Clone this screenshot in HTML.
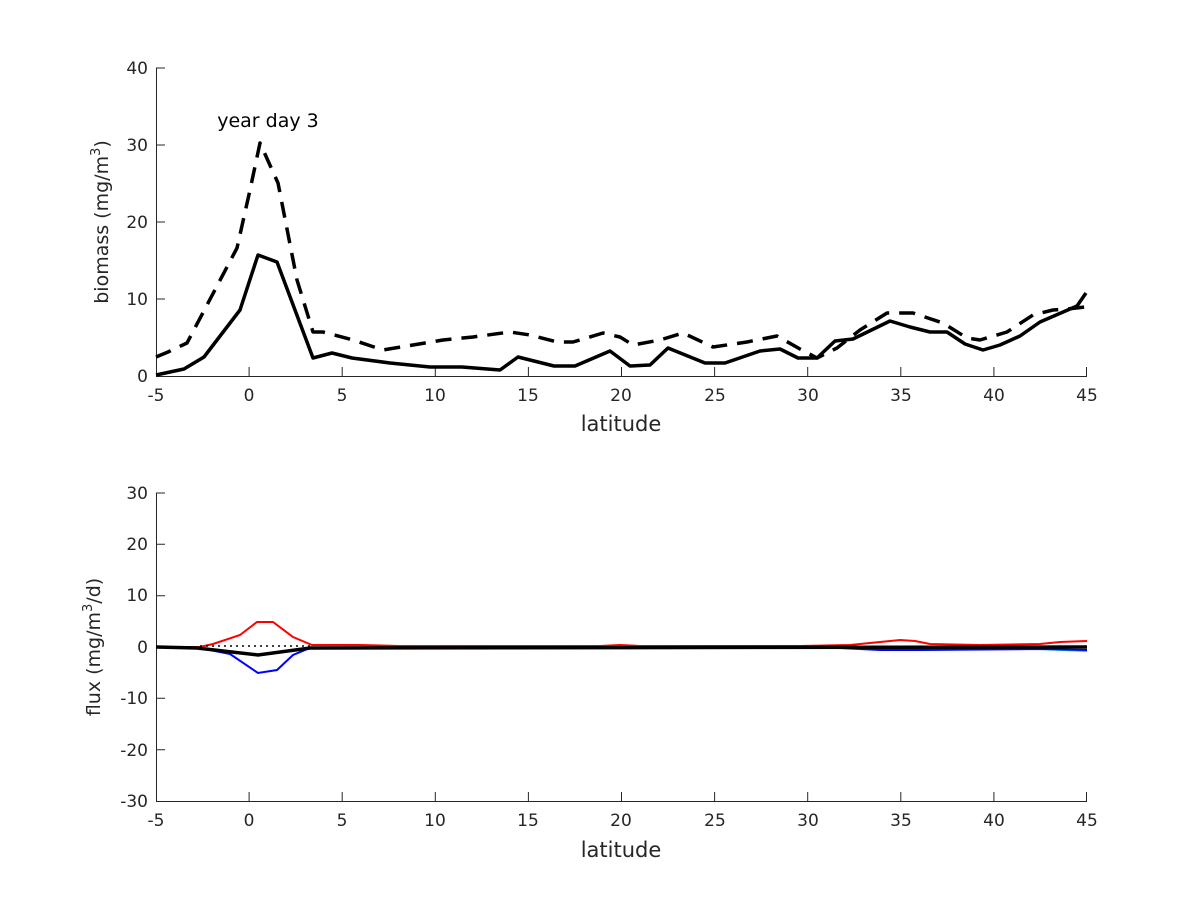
<!DOCTYPE html>
<html><head><meta charset="utf-8"><style>body{margin:0;background:#fff}</style></head><body>
<svg width="1200" height="900" xmlns="http://www.w3.org/2000/svg" font-family="DejaVu Sans, Liberation Sans, sans-serif" fill="#262626">
<rect width="1200" height="900" fill="#fff"/>
<g stroke="#262626" stroke-width="1" fill="none">
<path d="M156.5 68V376.5H1087"/>
<path d="M156.5 493V801.5H1087"/>
<path d="M156 68h9M156 145h9M156 222h9M156 299h9 M156 493h9M156 544.3h9M156 595.7h9M156 647h9M156 698.3h9M156 749.7h9"/>
<path d="M249.1 376v-9M342.2 376v-9M435.3 376v-9M528.4 376v-9M621.5 376v-9M714.6 376v-9M807.7 376v-9M900.8 376v-9M993.9 376v-9M1086.5 376v-9"/>
<path d="M249.1 801v-9M342.2 801v-9M435.3 801v-9M528.4 801v-9M621.5 801v-9M714.6 801v-9M807.7 801v-9M900.8 801v-9M993.9 801v-9M1086.5 801v-9"/>
</g>
<g font-size="17" text-anchor="end">
<text x="148" y="74">40</text><text x="148" y="151">30</text><text x="148" y="228">20</text><text x="148" y="305">10</text><text x="148" y="382">0</text>
<text x="148" y="499">30</text><text x="148" y="550">20</text><text x="148" y="601">10</text><text x="148" y="653">0</text><text x="148" y="704">-10</text><text x="148" y="756">-20</text><text x="148" y="807">-30</text>
</g>
<g font-size="17" text-anchor="middle">
<text x="156" y="401">-5</text><text x="249" y="401">0</text><text x="342" y="401">5</text><text x="435" y="401">10</text><text x="528" y="401">15</text><text x="621" y="401">20</text><text x="715" y="401">25</text><text x="808" y="401">30</text><text x="901" y="401">35</text><text x="994" y="401">40</text><text x="1087" y="401">45</text>
<text x="156" y="826">-5</text><text x="249" y="826">0</text><text x="342" y="826">5</text><text x="435" y="826">10</text><text x="528" y="826">15</text><text x="621" y="826">20</text><text x="715" y="826">25</text><text x="808" y="826">30</text><text x="901" y="826">35</text><text x="994" y="826">40</text><text x="1087" y="826">45</text>
<text x="621" y="431" font-size="21">latitude</text>
<text x="621" y="857" font-size="21">latitude</text>
<text x="268" y="127" font-size="19" fill="#000">year day 3</text>
<text transform="translate(108 222) rotate(-90)" font-size="19">biomass (mg/m<tspan font-size="13" dy="-8">3</tspan><tspan dy="8">)</tspan></text>
<text transform="translate(100 647) rotate(-90)" font-size="19">flux (mg/m<tspan font-size="13" dy="-8">3</tspan><tspan dy="8">/d)</tspan></text>
</g>
<g fill="none" stroke="#000" stroke-width="3.5" stroke-linejoin="round">
<polyline points="156,375 184,369 204,357 240,310 258,255 277,262 313,358 332,353 352,358 390,363 430,367 462,367 500,370 518,357 554,366 575,366 610,351 630,366 650,365 668,348 705,363 725,363 760,351 780,349 798,358 817,358 835,341 853,339 890,321 910,327 930,332 947,332 965,344 983,350 1000,345 1020,336 1040,322 1077,306 1086,293"/>
<polyline stroke-dasharray="16,10" points="156,357 168,352 187,343 237,248 250,190 260,143 278,183 297,280 313,332 323,332 353,340 383,350 413,345 443,340 473,337 510,332 530,335 557,342 573,342 603,333 620,337 633,345 660,340 683,333 713,347 747,342 777,336 800,349 817,358 837,348 860,330 887,313 913,313 943,323 967,338 980,340 1007,332 1033,315 1053,310 1067,309 1085,307"/>
</g>
<g fill="none" stroke-width="2">
<polyline stroke="#00e0e0" points="156,647 200,648 258,655 310,648 860,648 900,650 960,649 1040,649 1087,651"/>
<polyline stroke="#0000ff" points="156,647 200,648 230,654 258,673 277,670 293,655 310,648 840,648 880,650 920,650 1040,649 1087,650"/>
<polyline stroke="#ff0000" points="156,647 200,647 213,644 240,635 257,622 273,622 293,637 312,645 330,645 360,645 400,646 600,646 620,645 640,646 800,646 850,645 880,642 900,640 915,641 930,644 980,645 1040,644 1060,642 1087,641"/>
<polyline stroke="#000" stroke-width="1.5" stroke-dasharray="2,4" points="200,646 312,646"/>
<polyline stroke="#000" stroke-width="3.5" points="156,647 197,648 258,655 310,648 1087,647"/>
</g>
</svg>
</body></html>
